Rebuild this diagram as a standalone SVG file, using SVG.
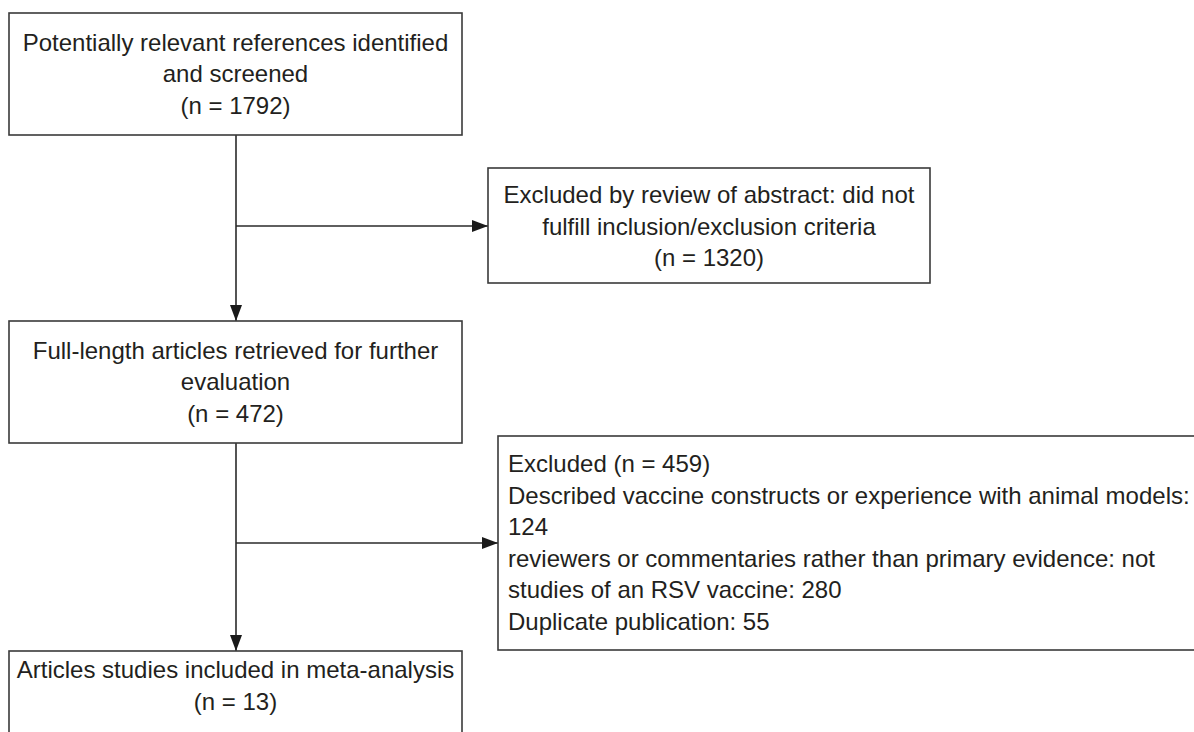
<svg xmlns="http://www.w3.org/2000/svg" width="1194" height="732" viewBox="0 0 1194 732">
<style>
.box{fill:#fff;stroke:#3a3a3a;stroke-width:1.6}
.t{font-family:"Liberation Sans",Arial,sans-serif;font-size:24px;fill:#231f20}
.c{text-anchor:middle}
.edge{fill:none;stroke:#2a2a2a;stroke-width:1.6}
</style>
<defs>
<marker id="ah" markerUnits="userSpaceOnUse" markerWidth="16" markerHeight="12" refX="16" refY="6" orient="auto">
<path d="M0,0 L16,6 L0,12 z" fill="#1a1a1a"/>
</marker>
</defs>
<rect width="1194" height="732" fill="#fff"/>
<g id="connectors">
<path class="edge" d="M236,135 V321" marker-end="url(#ah)"/>
<path class="edge" d="M236,226 H488" marker-end="url(#ah)"/>
<path class="edge" d="M236,443 V651" marker-end="url(#ah)"/>
<path class="edge" d="M236,543 H498" marker-end="url(#ah)"/>
</g>
<g id="n1">
<rect class="box" x="9" y="13" width="453" height="122"/>
<text class="t c" x="235.5" y="50.5">Potentially relevant references identified</text>
<text class="t c" x="235.5" y="82">and screened</text>
<text class="t c" x="235.5" y="113.5">(n = 1792)</text>
</g>
<g id="n2">
<rect class="box" x="488" y="168" width="442" height="115"/>
<text class="t c" x="709" y="203">Excluded by review of abstract: did not</text>
<text class="t c" x="709" y="234.5">fulfill inclusion/exclusion criteria</text>
<text class="t c" x="709" y="266">(n = 1320)</text>
</g>
<g id="n3">
<rect class="box" x="9" y="321" width="453" height="122"/>
<text class="t c" x="235.5" y="358.5">Full-length articles retrieved for further</text>
<text class="t c" x="235.5" y="390">evaluation</text>
<text class="t c" x="235.5" y="421.5">(n = 472)</text>
</g>
<g id="n4">
<rect class="box" x="498" y="436" width="720" height="214"/>
<text class="t" x="508" y="472">Excluded (n = 459)</text>
<text class="t" x="508" y="503.5">Described vaccine constructs or experience with animal models:</text>
<text class="t" x="508" y="535">124</text>
<text class="t" x="508" y="566.5">reviewers or commentaries rather than primary evidence: not</text>
<text class="t" x="508" y="598">studies of an RSV vaccine: 280</text>
<text class="t" x="508" y="629.5">Duplicate publication: 55</text>
</g>
<g id="n5">
<rect class="box" x="9" y="651" width="453" height="110"/>
<text class="t c" x="235.5" y="678">Articles studies included in meta-analysis</text>
<text class="t c" x="235.5" y="710">(n = 13)</text>
</g>
</svg>
